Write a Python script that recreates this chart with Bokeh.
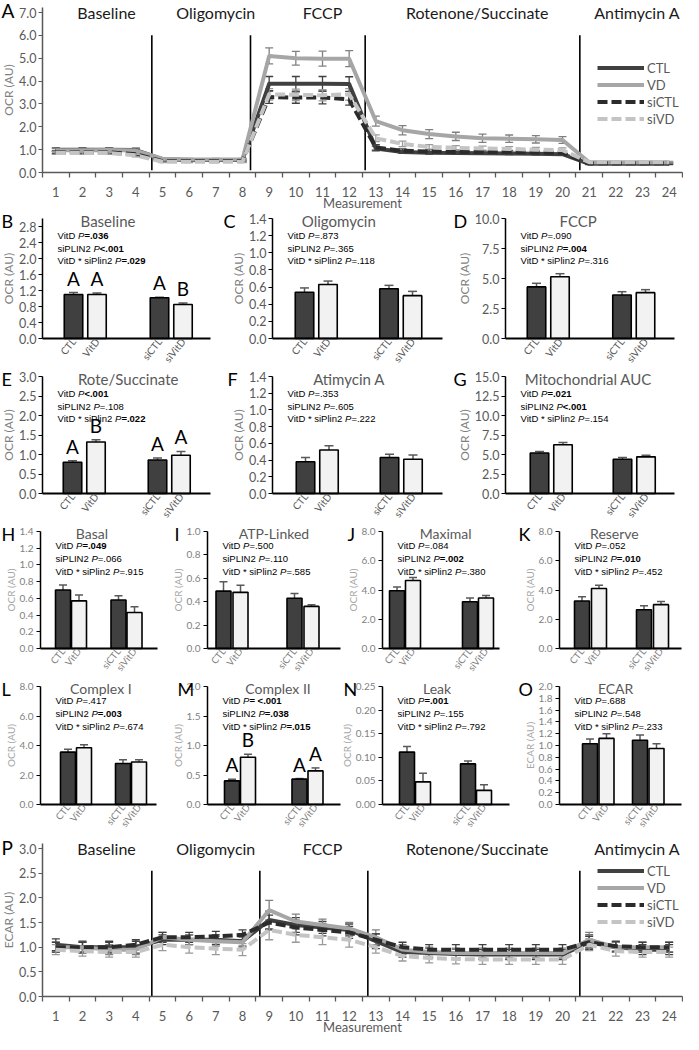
from bokeh.plotting import figure
from bokeh.models import (Range1d, ColumnDataSource, Whisker, TeeHead, Label,
                          Legend, LegendItem, FixedTicker, NumeralTickFormatter)
from bokeh.layouts import column, row
from bokeh.core.properties import value, field
from bokeh.embed import file_html
from bokeh.resources import INLINE

# ---------------------------------------------------------------- data: time courses
measurements = list(range(1, 25))
phase_names = ["Baseline", "Oligomycin", "FCCP", "Rotenone/Succinate", "Antimycin A"]
phase_label_x = [2.9, 7.0, 11.0, 16.8, 22.8]
phase_bounds_ocr = [4.6, 8.3, 12.6, 20.65]
phase_bounds_ecar = [4.6, 8.65, 12.7, 20.65]
series_names = ["CTL", "VD", "siCTL", "siVD"]

ocr_ctl = [1.00, 1.00, 1.00, 0.98, 0.58, 0.55, 0.55, 0.55, 3.88, 3.88, 3.88, 3.87,
           1.05, 0.90, 0.86, 0.85, 0.84, 0.83, 0.82, 0.80, 0.38, 0.38, 0.38, 0.38]
ocr_vd = [0.97, 0.97, 0.98, 0.96, 0.60, 0.57, 0.57, 0.57, 5.10, 5.00, 4.98, 4.98,
          2.25, 1.85, 1.68, 1.58, 1.50, 1.48, 1.45, 1.42, 0.45, 0.45, 0.45, 0.45]
ocr_sictl = [0.88, 0.88, 0.88, 0.80, 0.50, 0.50, 0.50, 0.50, 3.30, 3.28, 3.28, 3.20,
             1.10, 0.95, 0.92, 0.90, 0.90, 0.90, 0.88, 0.86, 0.40, 0.40, 0.40, 0.40]
ocr_sivd = [0.85, 0.85, 0.85, 0.75, 0.47, 0.47, 0.47, 0.47, 3.42, 3.40, 3.38, 3.42,
            1.50, 1.25, 1.12, 1.08, 1.05, 1.03, 1.00, 0.98, 0.45, 0.45, 0.45, 0.45]
ocr_ctl_err = [0.08, 0.08, 0.08, 0.08, 0.04, 0.04, 0.04, 0.04, 0.32, 0.32, 0.32, 0.32,
               0.10, 0.06, 0.06, 0.06, 0.05, 0.05, 0.05, 0.05, 0.03, 0.03, 0.03, 0.03]
ocr_vd_err = [0.08, 0.08, 0.08, 0.08, 0.05, 0.05, 0.05, 0.05, 0.35, 0.30, 0.33, 0.35,
              0.22, 0.20, 0.20, 0.18, 0.18, 0.16, 0.16, 0.15, 0.04, 0.04, 0.04, 0.04]
ocr_sictl_err = [0.06, 0.06, 0.06, 0.06, 0.04, 0.04, 0.04, 0.04, 0.28, 0.25, 0.28, 0.25,
                 0.12, 0.08, 0.08, 0.08, 0.07, 0.07, 0.07, 0.07, 0.03, 0.03, 0.03, 0.03]
ocr_sivd_err = [0.06, 0.06, 0.06, 0.06, 0.04, 0.04, 0.04, 0.04, 0.25, 0.25, 0.25, 0.25,
                0.15, 0.12, 0.10, 0.10, 0.10, 0.10, 0.10, 0.10, 0.03, 0.03, 0.03, 0.03]

ecar_ctl = [1.05, 1.00, 1.00, 1.00, 1.15, 1.15, 1.15, 1.12, 1.55, 1.45, 1.40, 1.35,
            1.12, 0.90, 0.88, 0.86, 0.85, 0.85, 0.85, 0.85, 1.10, 1.00, 0.95, 0.95]
ecar_vd = [1.00, 1.00, 0.95, 0.95, 1.20, 1.15, 1.12, 1.10, 1.75, 1.52, 1.45, 1.38,
           1.20, 0.95, 0.90, 0.88, 0.88, 0.88, 0.88, 0.88, 1.15, 1.00, 1.00, 1.00]
ecar_sictl = [1.00, 1.00, 1.00, 1.05, 1.20, 1.20, 1.22, 1.25, 1.50, 1.40, 1.35, 1.30,
              1.15, 1.00, 0.95, 0.95, 0.95, 0.95, 0.95, 0.95, 1.10, 1.02, 1.00, 1.00]
ecar_sivd = [0.95, 0.92, 0.90, 0.90, 1.05, 1.00, 0.97, 0.95, 1.35, 1.25, 1.20, 1.15,
             1.00, 0.82, 0.78, 0.76, 0.75, 0.75, 0.75, 0.75, 1.05, 0.92, 0.90, 0.90]
ecar_ctl_err = [0.12, 0.12, 0.12, 0.12, 0.10, 0.10, 0.10, 0.10, 0.18, 0.15, 0.12, 0.12,
                0.15, 0.10, 0.10, 0.10, 0.10, 0.10, 0.10, 0.10, 0.15, 0.10, 0.10, 0.10]
ecar_vd_err = [0.10, 0.10, 0.10, 0.10, 0.10, 0.10, 0.10, 0.10, 0.20, 0.15, 0.12, 0.12,
               0.15, 0.10, 0.10, 0.10, 0.10, 0.10, 0.10, 0.10, 0.15, 0.10, 0.10, 0.10]
ecar_sictl_err = [0.10, 0.10, 0.10, 0.10, 0.10, 0.10, 0.10, 0.10, 0.15, 0.15, 0.12, 0.12,
                  0.12, 0.10, 0.10, 0.10, 0.10, 0.10, 0.10, 0.10, 0.12, 0.10, 0.10, 0.10]
ecar_sivd_err = [0.10, 0.10, 0.10, 0.10, 0.12, 0.12, 0.12, 0.12, 0.20, 0.15, 0.15, 0.15,
                 0.12, 0.10, 0.10, 0.10, 0.10, 0.10, 0.10, 0.10, 0.12, 0.10, 0.10, 0.10]

# ---------------------------------------------------------------- data: bar panels
bar_labels = ["CTL", "VitD", "siCTL", "siVitD"]
panel_ids = ["B", "C", "D", "E", "F", "G", "H", "I", "J", "K", "L", "M", "N", "O"]
panel_titles = ["Baseline", "Oligomycin", "FCCP", "Rote/Succinate", "Atimycin A",
                "Mitochondrial AUC", "Basal", "ATP-Linked", "Maximal", "Reserve",
                "Complex I", "Complex II", "Leak", "ECAR"]
panel_ylabels = ["OCR (AU)"] * 13 + ["ECAR (AU)"]
bar_means = [
    [1.10, 1.10, 1.02, 0.85],
    [0.54, 0.63, 0.58, 0.50],
    [4.30, 5.15, 3.62, 3.82],
    [0.80, 1.32, 0.86, 0.98],
    [0.38, 0.52, 0.43, 0.41],
    [5.20, 6.25, 4.40, 4.70],
    [0.70, 0.57, 0.58, 0.43],
    [0.49, 0.48, 0.43, 0.36],
    [3.95, 4.65, 3.20, 3.45],
    [3.25, 4.10, 2.65, 3.00],
    [3.55, 3.85, 2.78, 2.88],
    [0.40, 0.80, 0.43, 0.57],
    [0.111, 0.048, 0.086, 0.030],
    [1.03, 1.12, 1.09, 0.95],
]
bar_errs = [
    [0.05, 0.04, 0.01, 0.04],
    [0.05, 0.04, 0.04, 0.05],
    [0.30, 0.25, 0.28, 0.25],
    [0.04, 0.06, 0.05, 0.10],
    [0.05, 0.05, 0.04, 0.05],
    [0.20, 0.30, 0.20, 0.20],
    [0.06, 0.07, 0.05, 0.07],
    [0.08, 0.06, 0.04, 0.015],
    [0.25, 0.20, 0.25, 0.18],
    [0.28, 0.22, 0.28, 0.22],
    [0.20, 0.20, 0.25, 0.15],
    [0.03, 0.05, 0.01, 0.05],
    [0.012, 0.018, 0.006, 0.012],
    [0.08, 0.08, 0.09, 0.08],
]
y_max = [3.0, 1.4, 10.0, 3.0, 1.4, 15.0, 1.4, 1.0, 8.0, 8.0, 8.0, 2.0, 0.25, 2.0]
y_top_tick = [2.8, 1.4, 10.0, 3.0, 1.4, 15.0, 1.4, 1.0, 8.0, 8.0, 8.0, 2.0, 0.25, 2.0]
y_step = [0.4, 0.2, 2.5, 0.5, 0.2, 2.5, 0.2, 0.2, 2.0, 2.0, 2.0, 0.5, 0.05, 0.2]
y_format = ["0.0"] * 12 + ["0.00", "0.0"]
p_prefixes = ["VitD ", "siPLIN2 ", "VitD * siPlin2 "]
p_vitd = ["=.036", "=.873", "=.090", "<.001", "=.353", "=.021", "=.049",
          "=.500", "=.084", "=.052", "=.417", "= <.001", "=.001", "=.688"]
p_siplin2 = ["<.001", "=.365", "=.004", "=.108", "=.605", "<.001", "=.066",
             "=.110", "=.002", "=.010", "=.003", "=.038", "=.155", "=.548"]
p_inter = ["=.029", "=.118", "=.316", "=.022", "=.222", "=.154", "=.915",
           "=.585", "=.380", "=.452", "=.674", "=.015", "=.792", "=.233"]
sig_letters = {"B": ["A", "A", "A", "B"], "E": ["A", "B", "A", "A"], "M": ["A", "B", "A", "A"]}

# ---------------------------------------------------------------- styling / layout
FONT = "Lato"
PFONT = "Liberation Sans"
GREY1 = "#595959"
GREY2 = "#7f7f7f"
GREY3 = "#a6a6a6"
line_colors = ["#404040", "#a6a6a6", "#2b2b2b", "#c4c4c4"]
line_dashes = ["solid", "solid", "10 4", "10 4"]
err_colors = ["#404040", "#808080", "#404040", "#9a9a9a"]
bar_fills = ["#404040", "#f2f2f2", "#404040", "#f2f2f2"]
title_frac = [0.39, 0.39, 0.43, 0.51, 0.45, 0.49, 0.44, 0.50, 0.54, 0.45, 0.52, 0.53, 0.43, 0.46]
letter_fx = [1, 1, 1, 1, 5, 1, 1, 7, 5, 1, 1, 10, 1, 1]
# per panel: x-axis length, first bar centre, bar pitch, pitch between the two pairs (px)
axis_len_px = [168, 170, 169, 168, 170, 169, 117, 133, 117, 122, 116, 133, 127, 122]
first_bar_px = [31, 32, 31, 30, 33, 34, 22.5, 16, 14.5, 22.5, 27.5, 24.5, 24.5, 30.5]
pair_pitch_px = [23.5, 23.5, 23.5, 23.5, 23.5, 23.5, 16, 17, 16, 17, 16, 16, 16, 16.5]
group_pitch_px = [62.5, 61, 62, 61.5, 60.5, 59.5, 39.5, 54, 57, 45, 39, 51.5, 45, 33.5]

ARIAL_W = {' ': 278, 'V': 667, 'i': 222, 't': 278, 'D': 722, 's': 500, 'P': 667,
           'L': 556, 'I': 278, 'N': 722, 'l': 222, 'n': 556, '*': 389, '=': 584,
           '<': 584, '.': 278}


def text_w(s, size):
    return sum(ARIAL_W.get(c, 556) for c in s) * size / 1000.0


def clean(p):
    p.xgrid.visible = False
    p.ygrid.visible = False
    p.outline_line_color = None
    p.background_fill_color = "white"
    p.border_fill_color = "white"


def line_panel(letter, ylab, series, errs, yticks, top_val, ybound, bounds, seg_lo, seg_hi,
               height, top_px, axis_py, legend_loc, letter_py):
    ux = 640 / 24.0
    ax_x = 42
    uy = (axis_py - top_px) / top_val
    p = figure(width=683, height=height,
               x_range=Range1d(0.5 - ax_x / ux, 0.5 + (683 - ax_x) / ux),
               y_range=Range1d(-(height - axis_py) / uy, axis_py / uy),
               output_backend="svg", toolbar_location=None, min_border=0)
    clean(p)
    n = len(bounds)
    p.segment(x0=bounds, x1=bounds, y0=[seg_lo] * n, y1=[seg_hi] * n,
              line_color="black", line_width=1.6)
    items = []
    for name, vals, err, col, dash, ecol in zip(series_names, series, errs,
                                                line_colors, line_dashes, err_colors):
        r = p.line(measurements, vals, line_color=col, line_width=4, line_dash=dash,
                   line_join="round")
        items.append(LegendItem(label=name, renderers=[r]))
        src = ColumnDataSource(dict(x=measurements,
                                    upper=[v + e for v, e in zip(vals, err)],
                                    lower=[v - e for v, e in zip(vals, err)]))
        p.add_layout(Whisker(source=src, base="x", upper="upper", lower="lower",
                             line_color=ecol, line_width=1.3,
                             upper_head=TeeHead(size=8, line_color=ecol, line_width=1.3),
                             lower_head=TeeHead(size=8, line_color=ecol, line_width=1.3)))
    leg = Legend(items=items, location=legend_loc, glyph_width=47, glyph_height=17,
                 label_height=17, spacing=0, padding=0, margin=0, label_standoff=3,
                 border_line_color=None, background_fill_alpha=0,
                 label_text_font=FONT, label_text_font_size="13px", label_text_color=GREY1)
    p.add_layout(leg)
    for nm, xx in zip(phase_names, phase_label_x):
        p.add_layout(Label(x=xx, y=top_val, text=nm, text_align="center", text_baseline="middle",
                           text_font=FONT, text_font_size="16px", text_color="#1a1a1a"))
    p.add_layout(Label(x=0.5 + (1 - ax_x) / ux, y=(axis_py - letter_py) / uy, text=letter,
                       text_align="left", text_baseline="middle", text_font=FONT,
                       text_font_size="19px", text_color="black"))
    ax = p.xaxis[0]
    ax.fixed_location = 0
    ax.bounds = (0.5, 24.5)
    ax.ticker = FixedTicker(ticks=measurements,
                            minor_ticks=[m - 0.5 for m in measurements] + [24.5])
    ax.major_tick_in = 0
    ax.major_tick_out = 0
    ax.minor_tick_in = 0
    ax.minor_tick_out = 5
    ax.minor_tick_line_color = GREY1
    ax.minor_tick_line_width = 1.3
    ax.axis_line_color = GREY1
    ax.axis_line_width = 1.5
    ax.major_label_text_font = FONT
    ax.major_label_text_font_size = "13px"
    ax.major_label_text_color = GREY1
    ax.major_label_standoff = 9
    ax.axis_label = "Measurement"
    ax.axis_label_text_font = FONT
    ax.axis_label_text_font_style = "normal"
    ax.axis_label_text_font_size = "13px"
    ax.axis_label_text_color = GREY1
    ax.axis_label_standoff = -5
    ay = p.yaxis[0]
    ay.fixed_location = 0.5
    ay.bounds = (0, ybound)
    ay.ticker = FixedTicker(ticks=yticks)
    ay.formatter = NumeralTickFormatter(format="0.0")
    ay.major_tick_out = 4
    ay.major_tick_in = 0
    ay.minor_tick_out = 0
    ay.minor_tick_in = 0
    ay.major_tick_line_color = GREY1
    ay.axis_line_color = GREY1
    ay.axis_line_width = 1.5
    ay.major_label_text_font = FONT
    ay.major_label_text_font_size = "12.5px"
    ay.major_label_text_color = GREY1
    ay.major_label_standoff = 2
    ay.axis_label = ylab
    ay.axis_label_text_font = FONT
    ay.axis_label_text_font_style = "normal"
    ay.axis_label_text_font_size = "12px"
    ay.axis_label_text_color = GREY2
    ay.axis_label_standoff = 0
    return p


def pnum(s):
    return float(s.replace("=", "").replace("<", "").strip())


def bar_panel(i, width, axis_px, height, ymax_py, axis_py, small):
    ux = 15.0 if small else 18.5
    ax_len = axis_len_px[i] / ux
    c0 = first_bar_px[i]
    pp = pair_pitch_px[i]
    gpch = group_pitch_px[i]
    pos_px = [c0, c0 + pp, c0 + pp + gpch, c0 + 2 * pp + gpch]
    pos = [round(v / ux, 3) for v in pos_px]
    ymax = y_max[i]
    uy = (axis_py - ymax_py) / ymax
    p = figure(width=width, height=height,
               x_range=Range1d(-axis_px / ux, (width - axis_px) / ux),
               y_range=Range1d(-(height - axis_py) / uy, axis_py / uy),
               output_backend="svg", toolbar_location=None, min_border=0)
    clean(p)
    means = bar_means[i]
    errs = bar_errs[i]
    upper = [m + e for m, e in zip(means, errs)]
    lower = [m - e for m, e in zip(means, errs)]
    src = ColumnDataSource(dict(x=pos, top=means, upper=upper, lower=lower, fill=bar_fills))
    p.vbar(x="x", top="top", width=1.0, source=src, fill_color="fill",
           line_color="black", line_width=1.6)
    hs = 8 if small else 9
    p.add_layout(Whisker(source=src, base="x", upper="upper", lower="lower",
                         line_color=GREY1, line_width=1.5,
                         upper_head=TeeHead(size=hs, line_color=GREY1, line_width=1.5),
                         lower_head=TeeHead(size=hs, line_color=GREY1, line_width=1.5)))
    pid = panel_ids[i]
    if pid in sig_letters:
        lsrc = ColumnDataSource(dict(x=pos, y=upper, t=sig_letters[pid]))
        p.text(x="x", y="y", text="t", source=lsrc, text_align="center", text_baseline="bottom",
               y_offset=-3, text_font=value(FONT), text_font_size="19px", text_color="black")
    # p-value block
    first = 14 if small else 17
    gap = 13 if small else 12.5
    tx, st, xo, yo = [], [], [], []
    for k, (pre, pv) in enumerate(zip(p_prefixes, [p_vitd[i], p_siplin2[i], p_inter[i]])):
        sig = pnum(pv) < 0.05
        x0 = 15.0
        for seg, style in [(pre, "normal"), ("P", "italic"), (pv, "bold" if sig else "normal")]:
            tx.append(seg)
            st.append(style)
            xo.append(x0)
            yo.append(first + k * gap)
            x0 += text_w(seg, 9.5)
    nseg = len(tx)
    psrc = ColumnDataSource(dict(x=[0.0] * nseg, y=[ymax] * nseg, t=tx, s=st, xo=xo, yo=yo))
    p.text(x="x", y="y", text="t", source=psrc, x_offset="xo", y_offset="yo",
           text_font_style=field("s"), text_font=value(PFONT), text_font_size="9.5px",
           text_align="left", text_baseline="middle", text_color="black")
    # title and panel letter
    p.add_layout(Label(x=title_frac[i] * ax_len, y=ymax - 2.0 / uy, text=panel_titles[i],
                       text_align="center", text_baseline="middle", text_font=FONT,
                       text_font_size="14px" if small else "15px", text_color=GREY1))
    p.add_layout(Label(x=(letter_fx[i] - axis_px) / ux, y=ymax - 2.0 / uy, text=pid,
                       text_align="left", text_baseline="middle", text_font=FONT,
                       text_font_size="18px", text_color="black"))
    # axes
    ax = p.xaxis[0]
    ax.fixed_location = 0
    ax.bounds = (0, ax_len)
    ax.ticker = FixedTicker(ticks=pos)
    ax.major_label_overrides = {x: lab for x, lab in zip(pos, bar_labels)}
    ax.major_label_orientation = 0.9
    ax.major_tick_line_color = None
    ax.minor_tick_line_color = None
    ax.major_tick_out = 0
    ax.major_tick_in = 0
    ax.axis_line_color = "black"
    ax.axis_line_width = 2
    ax.major_label_text_font = FONT
    ax.major_label_text_font_size = "9.5px" if small else "10px"
    ax.major_label_text_color = GREY2 if small else GREY1
    ax.major_label_standoff = 1
    ay = p.yaxis[0]
    ay.fixed_location = 0
    ay.bounds = (0, ymax)
    step = y_step[i]
    nt = int(round(y_top_tick[i] / step))
    ay.ticker = FixedTicker(ticks=[round(k * step, 4) for k in range(nt + 1)])
    ay.formatter = NumeralTickFormatter(format=y_format[i])
    ay.major_tick_out = 4
    ay.major_tick_in = 0
    ay.minor_tick_out = 0
    ay.minor_tick_in = 0
    ay.major_tick_line_color = "black"
    ay.axis_line_color = "black"
    ay.axis_line_width = 1.5
    ay.major_label_text_font = FONT
    ay.major_label_text_font_size = "10px" if small else "12.5px"
    ay.major_label_text_color = GREY2 if small else GREY1
    ay.major_label_standoff = 3 if small else 2
    ay.axis_label = panel_ylabels[i]
    ay.axis_label_text_font = FONT
    ay.axis_label_text_font_style = "normal"
    ay.axis_label_text_font_size = "10px" if small else "12px"
    ay.axis_label_text_color = GREY3 if small else GREY2
    ay.axis_label_standoff = 0
    return p


figA = line_panel("A", "OCR (AU)", [ocr_ctl, ocr_vd, ocr_sictl, ocr_sivd],
                  [ocr_ctl_err, ocr_vd_err, ocr_sictl_err, ocr_sivd_err],
                  [0, 1, 2, 3, 4, 5, 6, 7], 7.0, 7.2, phase_bounds_ocr, 0.1, 6.0,
                  210, 12, 172, (597, 83), 10)
figP = line_panel("P", "ECAR (AU)", [ecar_ctl, ecar_vd, ecar_sictl, ecar_sivd],
                  [ecar_ctl_err, ecar_vd_err, ecar_sictl_err, ecar_sivd_err],
                  [0, 0.5, 1.0, 1.5, 2.0, 2.5, 3.0], 3.0, 3.1, phase_bounds_ecar, 0.0, 2.55,
                  200, 14, 162, (597, 104), 13)

row1 = row(bar_panel(0, 222, 42, 158, 8, 128, False),
           bar_panel(1, 230, 50, 158, 8, 128, False),
           bar_panel(2, 231, 53, 158, 8, 128, False))
row2 = row(bar_panel(3, 222, 42, 155, 8, 125, False),
           bar_panel(4, 230, 50, 155, 8, 125, False),
           bar_panel(5, 231, 53, 155, 8, 125, False))
row3 = row(bar_panel(6, 167, 40, 155, 8, 125, True),
           bar_panel(7, 175, 40, 155, 8, 125, True),
           bar_panel(8, 175, 40, 155, 8, 125, True),
           bar_panel(9, 166, 42, 155, 8, 125, True))
row4 = row(bar_panel(10, 167, 40, 156, 8, 126, True),
           bar_panel(11, 175, 40, 156, 8, 126, True),
           bar_panel(12, 175, 40, 156, 8, 126, True),
           bar_panel(13, 166, 42, 156, 8, 126, True))

page = column(figA, row1, row2, row3, row4, figP)
open("out.html", "w").write(file_html(page, INLINE))
